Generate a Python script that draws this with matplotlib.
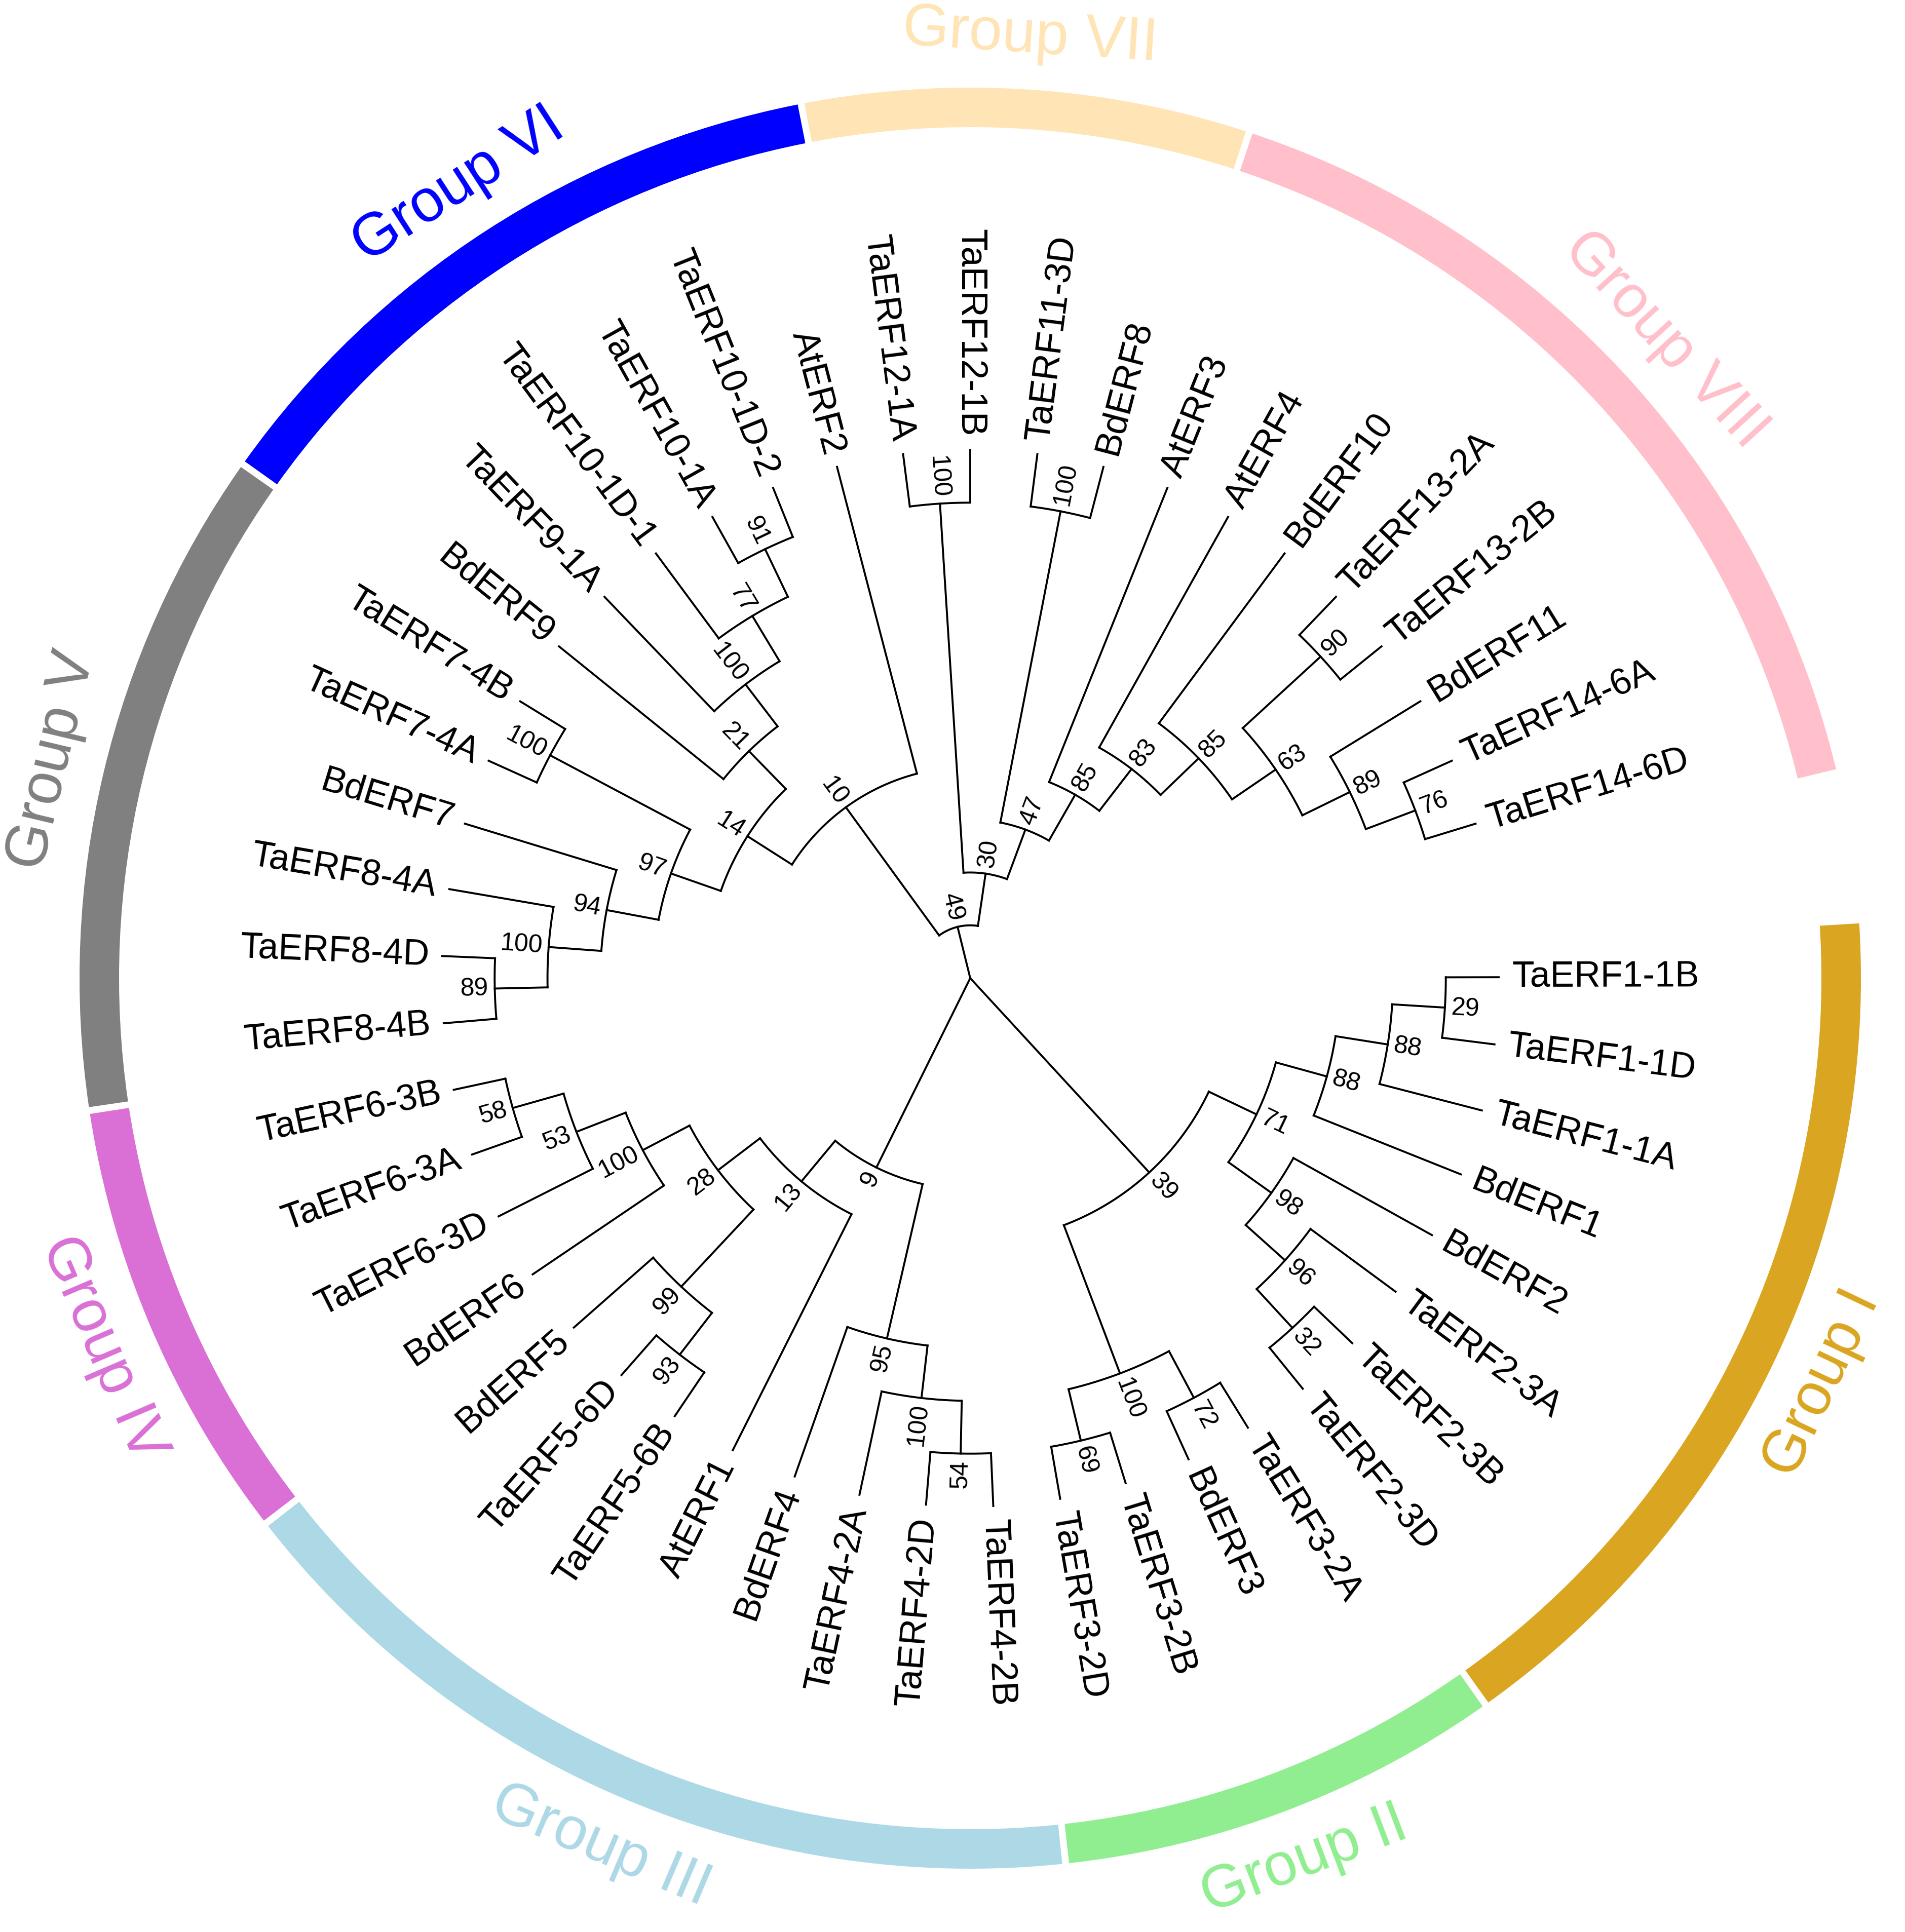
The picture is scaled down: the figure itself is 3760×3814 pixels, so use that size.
import matplotlib
matplotlib.use("Agg")
import matplotlib.pyplot as plt
from matplotlib.patches import Wedge
import numpy as np

# ---------------- data ----------------
# Tree topology (Newick, leaves listed counter-clockwise) with bootstrap values
CLADE_VIII_VII = ("((((((((TaERF14-6D,TaERF14-6A)76,BdERF11)89,(TaERF13-2B,TaERF13-2A)90)63,"
                  "BdERF10)85,AtERF4)83,AtERF3)85,(BdERF8,TaERF11-3D)100)47,"
                  "(TaERF12-1B,TaERF12-1A)100)30")
CLADE_VI_V = ("(AtERF2,(((((TaERF10-1D-2,TaERF10-1A)91,TaERF10-1D-1)77,TaERF9-1A)100,BdERF9)21,"
              "((TaERF7-4B,TaERF7-4A)100,(BdERF7,(TaERF8-4A,(TaERF8-4D,TaERF8-4B)89)100)94)97)14)10")
CLADE_IV_III = ("((((((TaERF6-3B,TaERF6-3A)58,TaERF6-3D)53,BdERF6)100,"
                "(BdERF5,(TaERF5-6D,TaERF5-6B)93)99)28,AtERF1)13,"
                "(BdERF4,(TaERF4-2A,(TaERF4-2D,TaERF4-2B)54)100)95)9")
CLADE_II_I = ("(((TaERF3-2D,TaERF3-2B)69,(BdERF3,TaERF3-2A)72)100,"
              "((((TaERF2-3D,TaERF2-3B)32,TaERF2-3A)96,BdERF2)98,"
              "(BdERF1,(TaERF1-1A,(TaERF1-1D,TaERF1-1B)29)88)88)71)39")
TREE = "((" + CLADE_VIII_VII + "," + CLADE_VI_V + ")49," + CLADE_IV_III + "," + CLADE_II_I + ");"

# groups: name, first leaf index, last leaf index, colour
GROUP_NAMES = ["Group VIII", "Group VII", "Group VI", "Group V", "Group IV",
               "Group III", "Group II", "Group I"]
GROUP_FIRST = [0, 8, 12, 18, 24, 28, 36, 40]
GROUP_LAST = [7, 11, 17, 23, 27, 35, 39, 47]
GROUP_COLORS = ["#FFC0CB", "#FFE4B5", "#0000FF", "#808080", "#DA70D6",
                "#ADD8E6", "#90EE90", "#DAA520"]

# ---------------- layout parameters ----------------
W, H = 3760, 3814
CX, CY = 1915, H - 1931
START = 17.0      # angle of first leaf (deg)
STEP = 7.3        # angular spacing of leaves
UNIT = 104.3      # radial step per level
LW = 2.8
R_IN, R_OUT = 1680, 1758
R_GLAB = 1862
FONT = "Liberation Sans"


def parse(s):
    pos = 0

    def label():
        nonlocal pos
        st = pos
        while pos < len(s) and s[pos] not in ",();":
            pos += 1
        return s[st:pos]

    def node():
        nonlocal pos
        if s[pos] == "(":
            pos += 1
            kids = [node()]
            while s[pos] == ",":
                pos += 1
                kids.append(node())
            pos += 1  # ')'
            return {"children": kids, "support": label()}
        return {"children": [], "name": label()}

    return node()


root = parse(TREE)
counter = [0]


def layout(n):
    if not n["children"]:
        n["angle"] = START + STEP * counter[0]
        counter[0] += 1
        n["h"] = 0
    else:
        for c in n["children"]:
            layout(c)
        n["h"] = 1 + max(c["h"] for c in n["children"])
        n["angle"] = 0.5 * (n["children"][0]["angle"] + n["children"][-1]["angle"])


layout(root)
MAXH = root["h"]


def radius(n):
    return (MAXH - n["h"]) * UNIT


def pt(r, a):
    t = np.deg2rad(a)
    return CX + r * np.cos(t), CY + r * np.sin(t)


fig = plt.figure(figsize=(W / 100, H / 100), dpi=100)
ax = fig.add_axes([0, 0, 1, 1])
ax.set_xlim(0, W)
ax.set_ylim(0, H)
ax.axis("off")


def is_left(a):
    a = a % 360
    return 89.9 <= a < 269.9


def draw(n, is_root=False):
    r = radius(n)
    if not n["children"]:
        a = n["angle"]
        x, y = pt(r + 26, a)
        if is_left(a):
            ax.text(x, y, n["name"], rotation=a - 180, ha="right", va="center",
                    rotation_mode="anchor", fontsize=51.5, family=FONT)
        else:
            ax.text(x, y, n["name"], rotation=a, ha="left", va="center",
                    rotation_mode="anchor", fontsize=51.5, family=FONT)
        return
    kids = n["children"]
    if r > 0:
        aa = np.linspace(kids[0]["angle"], kids[-1]["angle"], 200)
        xs, ys = pt(r, aa)
        ax.plot(xs, ys, color="black", lw=LW, solid_capstyle="projecting")
    for c in kids:
        x0, y0 = pt(r, c["angle"])
        x1, y1 = pt(radius(c), c["angle"])
        ax.plot([x0, x1], [y0, y1], color="black", lw=LW, solid_capstyle="projecting")
        draw(c)
    if not is_root and n.get("support"):
        a = n["angle"]
        x, y = pt(r + 12, a)
        if is_left(a):
            ax.text(x, y, n["support"], rotation=a - 180, ha="right", va="center",
                    rotation_mode="anchor", fontsize=36, family=FONT)
        else:
            ax.text(x, y, n["support"], rotation=a, ha="left", va="center",
                    rotation_mode="anchor", fontsize=36, family=FONT)


draw(root, is_root=True)

# outer group ring and labels
for name, f, l, col in zip(GROUP_NAMES, GROUP_FIRST, GROUP_LAST, GROUP_COLORS):
    a0 = START + STEP * (f - 0.5) + 0.22
    a1 = START + STEP * (l + 0.5) - 0.22
    ax.add_patch(Wedge((CX, CY), R_OUT, a0, a1, width=R_OUT - R_IN,
                       facecolor=col, edgecolor="none"))
    m = 0.5 * (a0 + a1) % 360
    rot = m - 90 if 0 < m < 180 else m + 90
    x, y = pt(R_GLAB, m)
    ax.text(x, y, name, rotation=rot, ha="center", va="center",
            rotation_mode="anchor", fontsize=85, color=col, family=FONT)

fig.savefig("out.png", dpi=100, facecolor="white")
